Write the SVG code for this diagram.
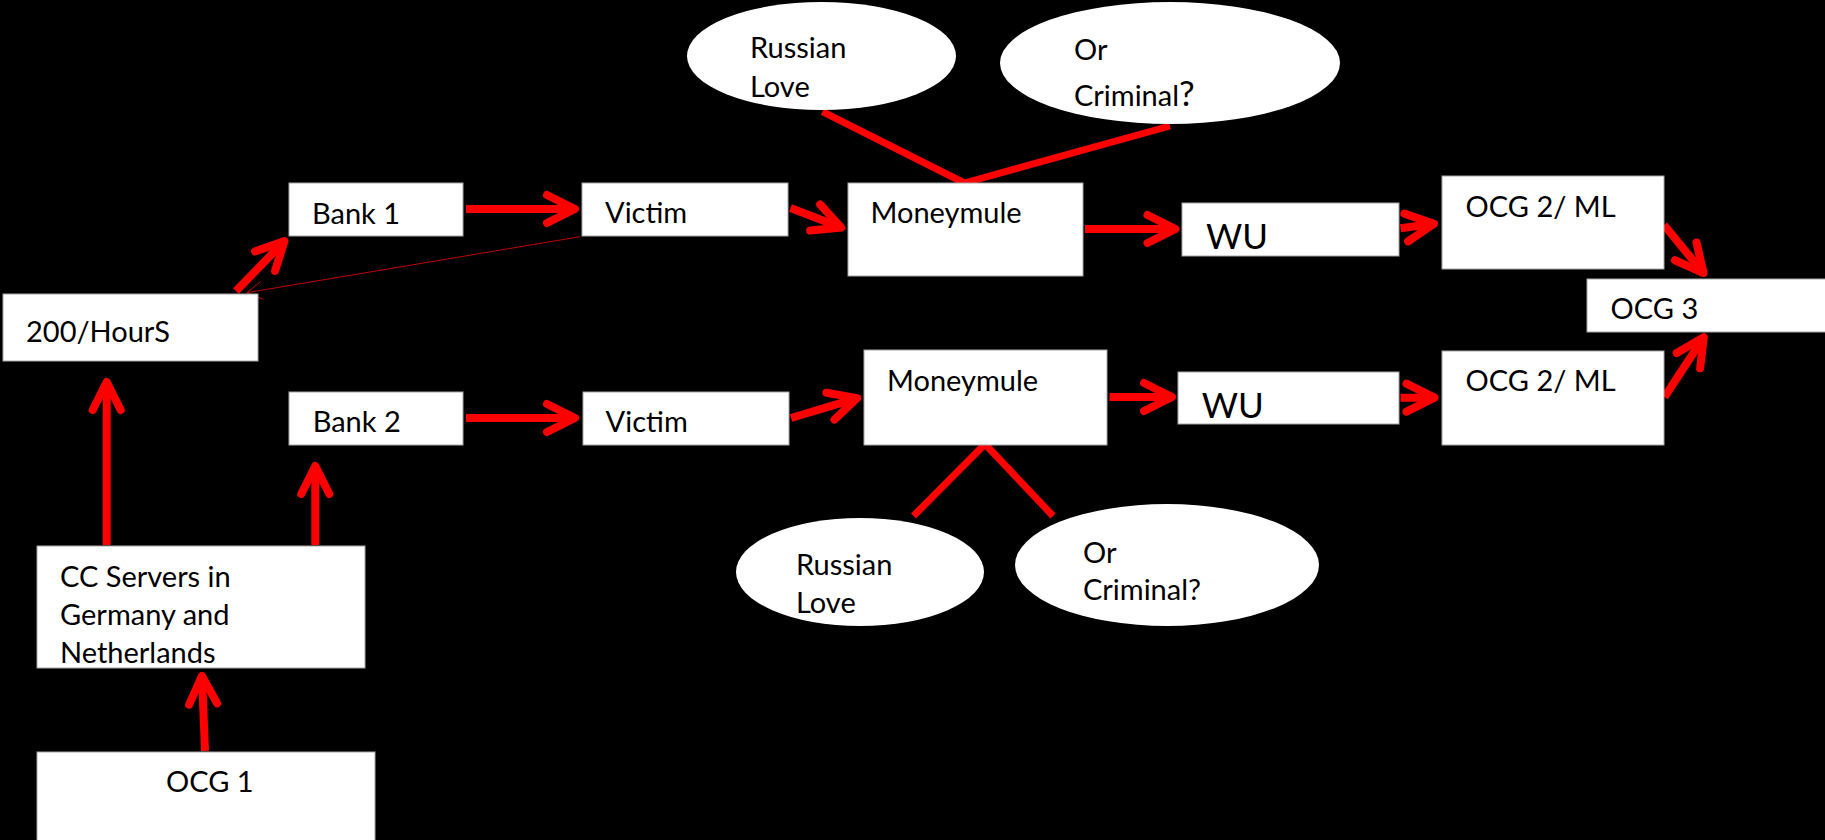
<svg xmlns="http://www.w3.org/2000/svg" width="1825" height="840" viewBox="0 0 1825 840">
<style>
.box{fill:#fff;stroke:#a6a6a6;stroke-width:1}
.ell{fill:#fff;stroke:none}
text{font-family:Lato,"Liberation Sans",sans-serif;font-size:29px;fill:#000}
.big{font-size:35px}
.arr{fill:none;stroke:#f00;stroke-width:8;stroke-linecap:butt;marker-end:url(#ah)}
.ln{fill:none;stroke:#f00;stroke-width:7;stroke-linecap:butt}
.thin{fill:none;stroke:#c00000;stroke-width:1}
</style>
<defs>
<marker id="ah" markerUnits="userSpaceOnUse" orient="auto" refX="0" refY="0" markerWidth="60" markerHeight="60" overflow="visible">
<path d="M-28,-14 L0,0 L-28,14" fill="none" stroke="#f00" stroke-width="8" stroke-linecap="round" stroke-linejoin="round"/>
</marker>
</defs>
<rect width="1825" height="840" fill="#000"/>
<g id="connectors">
<path class="arr" d="M205,751 L202,676"/>
<path class="arr" d="M106.7,545 L106.7,382"/>
<path class="arr" d="M315.3,545 L315.3,466"/>
<path class="arr" d="M236,291 L284.5,241.1"/>
<path class="thin" d="M580,236.7 L246.7,292.7 M260.7,281.7 L246.7,292.7 L263.3,299.3"/>
<path class="arr" d="M466,209 L575,209"/>
<path class="arr" d="M790.5,208 L841.3,227.6"/>
<path class="arr" d="M1085,229 L1175.5,229"/>
<path class="arr" d="M1400.5,228.3 L1434,223.8"/>
<path class="arr" d="M1664,225 L1703.5,273"/>
<path class="arr" d="M466,418 L575,418"/>
<path class="arr" d="M791,418 L857.2,398.1"/>
<path class="arr" d="M1109.5,397 L1172,397"/>
<path class="arr" d="M1400.5,397.7 L1434.5,397.7"/>
<path class="arr" d="M1664.5,397 L1703.8,337.3"/>
<path class="ln" d="M822.4,111.7 L964.4,183"/>
<path class="ln" d="M964.4,183 L1170,126"/>
<path class="ln" d="M913.5,516 L985,444"/>
<path class="ln" d="M985,444 L1053,516"/>
</g>
<g id="n-bank1"><rect class="box" x="289" y="183" width="174" height="53"/><text x="312" y="224">Bank 1</text></g>
<g id="n-victim1"><rect class="box" x="582" y="183" width="206" height="53"/><text x="605" y="223">Victim</text></g>
<g id="n-moneymule1"><rect class="box" x="848" y="183" width="235" height="93"/><text x="870.5" y="223">Moneymule</text></g>
<g id="n-wu1"><rect class="box" x="1182" y="203" width="217" height="53"/><text class="big" x="1206" y="249">WU</text></g>
<g id="n-ocg2a"><rect class="box" x="1442" y="176" width="222" height="93"/><text x="1465.6" y="217">OCG 2/ ML</text></g>
<g id="n-ocg3"><rect class="box" x="1587" y="279" width="245" height="53"/><text x="1610.6" y="319">OCG 3</text></g>
<g id="n-200hours"><rect class="box" x="3" y="294" width="255" height="67"/><text x="26" y="342">200/HourS</text></g>
<g id="n-bank2"><rect class="box" x="289" y="392" width="174" height="53"/><text x="312.7" y="431.7">Bank 2</text></g>
<g id="n-victim2"><rect class="box" x="583" y="392" width="206" height="53"/><text x="605.6" y="431.7">Victim</text></g>
<g id="n-moneymule2"><rect class="box" x="864" y="350" width="243" height="95"/><text x="887" y="390.7">Moneymule</text></g>
<g id="n-wu2"><rect class="box" x="1178" y="372" width="221" height="52"/><text class="big" x="1201.7" y="418">WU</text></g>
<g id="n-ocg2b"><rect class="box" x="1442" y="351" width="222" height="94"/><text x="1465.6" y="390.7">OCG 2/ ML</text></g>
<g id="n-ccservers"><rect class="box" x="37" y="546" width="328" height="122"/><text x="60" y="586.7">CC Servers in</text><text x="60" y="625">Germany and</text><text x="60" y="662.7">Netherlands</text></g>
<g id="n-ocg1"><rect class="box" x="37" y="752" width="338" height="95"/><text x="166" y="791.7">OCG 1</text></g>
<g id="n-russian1"><ellipse class="ell" cx="821.5" cy="56" rx="134.5" ry="54"/><text x="750" y="58">Russian</text><text x="750" y="97">Love</text></g>
<g id="n-criminal1"><ellipse class="ell" cx="1170" cy="63" rx="170" ry="61"/><text x="1074" y="60">Or</text><text x="1074" y="106">Criminal<tspan class="big">?</tspan></text></g>
<g id="n-russian2"><ellipse class="ell" cx="860" cy="572" rx="124" ry="54"/><text x="796" y="575">Russian</text><text x="796" y="612.7">Love</text></g>
<g id="n-criminal2"><ellipse class="ell" cx="1167" cy="565" rx="152" ry="61"/><text x="1083" y="562.7">Or</text><text x="1083" y="600">Criminal?</text></g>
</svg>
